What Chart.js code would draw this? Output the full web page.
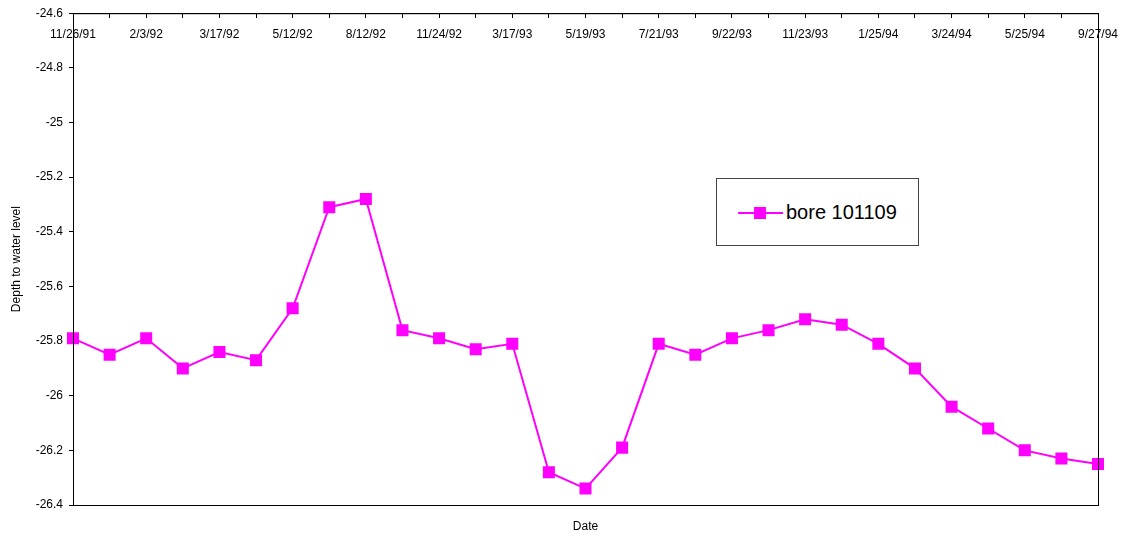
<!DOCTYPE html>
<html>
<head>
<meta charset="utf-8">
<script src="https://cdn.jsdelivr.net/npm/chart.js@4"></script>
<style>
  html, body { margin: 0; padding: 0; background: #fff; }
  #wrap { position: relative; width: 1124px; height: 537px; }
  #legend {
    position: absolute; left: 716px; top: 178px; width: 201px; height: 66px;
    border: 1px solid #444; background: #fff;
    font-family: 'Liberation Sans', Arial, sans-serif; font-size: 20px; color: #000;
  }
  #legend .line { position: absolute; left: 21px; top: 33px; width: 45px; height: 2px; background: #ff00ff; }
  #legend .box { position: absolute; left: 37px; top: 28px; width: 12px; height: 12px; background: #ff00ff; }
  #legend .txt { position: absolute; left: 69px; top: 21px; line-height: 24px; }
</style>
</head>
<body>
<div id="wrap">
  <canvas id="chart" width="1124" height="537"></canvas>
  <div id="legend"><span class="line"></span><span class="box"></span><span class="txt">bore 101109</span></div>
</div>
<script>
// dates on the category axis (every second one is labelled)
const dates = [
  '11/26/91', '', '2/3/92', '', '3/17/92', '', '5/12/92', '', '8/12/92', '',
  '11/24/92', '', '3/17/93', '', '5/19/93', '', '7/21/93', '', '9/22/93', '',
  '11/23/93', '', '1/25/94', '', '3/24/94', '', '5/25/94', '', '9/27/94'
];

// depth to water level, bore 101109
const depth = [
  -25.79, -25.85, -25.79, -25.90, -25.84, -25.87, -25.68, -25.31, -25.28, -25.76,
  -25.79, -25.83, -25.81, -26.28, -26.34, -26.19, -25.81, -25.85, -25.79, -25.76,
  -25.72, -25.74, -25.81, -25.90, -26.04, -26.12, -26.20, -26.23, -26.25
];

const yMin = -26.4;
const yMax = -24.6;
const yStep = 0.2;

const font = { family: "'Liberation Sans', Arial, sans-serif", size: 12 };

// box around the plot area
const frame = {
  id: 'frame',
  afterDraw(chart) {
    const { ctx, chartArea } = chart;
    ctx.save();
    ctx.strokeStyle = '#000';
    ctx.lineWidth = 1;
    ctx.strokeRect(chartArea.left + 0.5, chartArea.top + 0.5,
      chartArea.right - chartArea.left, chartArea.bottom - chartArea.top);
    ctx.restore();
  }
};

const ctx = document.getElementById('chart').getContext('2d');
new Chart(ctx, {
  type: 'line',
  data: {
    labels: dates,
    datasets: [{
      label: 'bore 101109',
      data: depth,
      borderColor: '#ff00ff',
      backgroundColor: '#ff00ff',
      borderWidth: 2,
      pointStyle: 'rect',
      pointRadius: 8.5,
      pointBorderWidth: 0,
      tension: 0,
      xAxisID: 'x',
      yAxisID: 'y'
    }]
  },
  options: {
    responsive: false,
    animation: false,
    layout: { padding: { top: 12, right: 26, left: 0, bottom: 0 } },
    plugins: {
      legend: { display: false },
      tooltip: { enabled: false }
    },
    scales: {
      x: {
        type: 'category',
        position: { y: yMax },
        offset: false,
        afterFit(scale) {
          scale.height = 0;
          scale.paddingLeft = 0;
          scale.paddingRight = 0;
        },
        grid: { drawOnChartArea: false, drawTicks: true, tickLength: 4, color: '#000' },
        border: { display: true, color: '#000', width: 1 },
        ticks: { autoSkip: false, maxRotation: 0, padding: 10, color: '#000', font: font }
      },
      xb: {
        type: 'category',
        position: 'bottom',
        offset: false,
        afterFit(scale) { scale.height = 32; },
        grid: { display: false },
        border: { display: true, color: '#000' },
        ticks: { display: false },
        title: { display: true, text: 'Date', color: '#000', font: font, padding: { top: 0, bottom: 3 } }
      },
      y: {
        type: 'linear',
        position: 'left',
        min: yMin,
        max: yMax,
        afterFit(scale) { scale.width = 73; },
        grid: { drawOnChartArea: false, drawTicks: true, tickLength: 4, color: '#000' },
        border: { display: true, color: '#000', width: 1 },
        ticks: {
          stepSize: yStep,
          padding: 6,
          color: '#000',
          font: font,
          callback: v => String(parseFloat(v.toFixed(1)))
        },
        title: {
          display: true,
          text: 'Depth to water level',
          color: '#000',
          font: { family: "'Liberation Sans Narrow', 'Liberation Sans', Arial, sans-serif", size: 12 },
          padding: { top: 9, bottom: 0 }
        }
      }
    }
  },
  plugins: [frame]
});
</script>
</body>
</html>
